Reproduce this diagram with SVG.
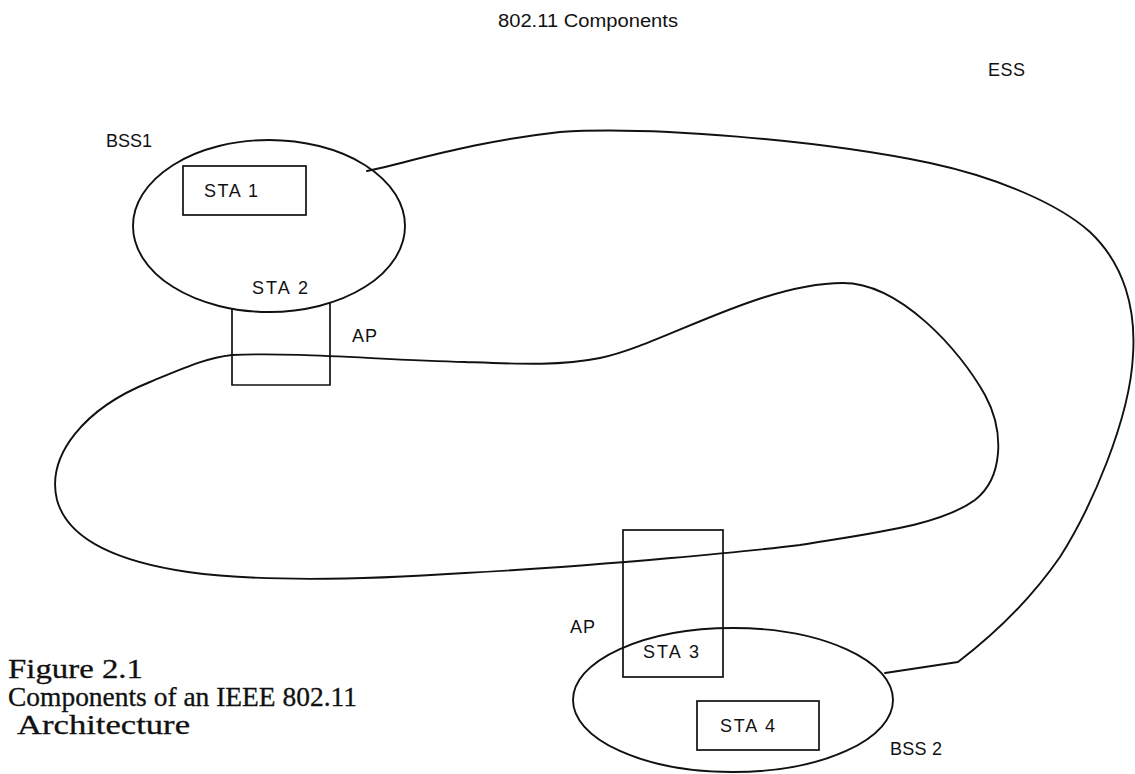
<svg xmlns="http://www.w3.org/2000/svg" width="1135" height="774" viewBox="0 0 1135 774">
<style>
.ln{fill:none;stroke:#111;stroke-width:1.9;stroke-linejoin:round;stroke-linecap:round}
.bx{fill:none;stroke:#111;stroke-width:1.7}
.lb{font-family:"Liberation Sans",Arial,sans-serif;font-size:18px;fill:#111}
.cap{font-family:"Liberation Serif","Times New Roman",serif;font-size:27px;fill:#111;stroke:#111;stroke-width:0.3}
</style>
<rect width="1135" height="774" fill="#fff"/>
<text class="lb" x="498" y="27" font-size="19" textLength="180" lengthAdjust="spacingAndGlyphs">802.11 Components</text>
<text class="lb" x="988" y="76" textLength="37">ESS</text>
<g id="connectors">
<path id="ess-link" class="ln" d="M367,171 C410,162 470,142 560,132 C650,126 820,140 930,163 C1000,178 1060,205 1090,232 C1125,265 1136,310 1133,355 C1130,420 1090,510 1060,557 C1035,593 1000,630 958,662 L885,673"/>
<path id="ds-loop" class="ln" d="M232,355 C300,352 380,360 465,362 C520,364 560,366 600,358 C660,346 760,283 843,283 C900,283 960,350 985,395 C1005,432 1003,478 975,500 C940,525 880,532 800,545 C760,550 600,566 465,573 C360,580 260,582 188,572 C120,562 68,540 57,500 C46,455 85,408 150,382 C182,369 205,358 232,355 Z"/>
</g>
<g id="bss1">
<ellipse class="ln" cx="269" cy="226" rx="136" ry="86"/>
<text class="lb" x="106" y="147" textLength="46">BSS1</text>
</g>
<g id="sta1">
<rect class="bx" x="183" y="166" width="123" height="49"/>
<text class="lb" x="204" y="197" textLength="54">STA 1</text>
</g>
<g id="sta2-ap">
<path class="bx" d="M232,308.7 V385 H330 V302.9"/>
<text class="lb" x="252" y="294" textLength="56">STA 2</text>
<text class="lb" x="352" y="342" textLength="25">AP</text>
</g>
<g id="sta3-ap">
<rect class="bx" x="623" y="530" width="100" height="147"/>
<text class="lb" x="570" y="633" textLength="25">AP</text>
<text class="lb" x="643" y="658" textLength="56">STA 3</text>
</g>
<g id="bss2">
<ellipse class="ln" cx="733" cy="700" rx="160" ry="72"/>
<text class="lb" x="890" y="755" textLength="52">BSS 2</text>
</g>
<g id="sta4">
<rect class="bx" x="697" y="701" width="122" height="49"/>
<text class="lb" x="720" y="732" textLength="55">STA 4</text>
</g>
<g id="caption">
<text class="cap" x="8" y="678" textLength="135" lengthAdjust="spacingAndGlyphs">Figure 2.1</text>
<text class="cap" x="8" y="706" textLength="349" lengthAdjust="spacingAndGlyphs">Components of an IEEE 802.11</text>
<text class="cap" x="17" y="734" textLength="173" lengthAdjust="spacingAndGlyphs">Architecture</text>
</g>
</svg>
